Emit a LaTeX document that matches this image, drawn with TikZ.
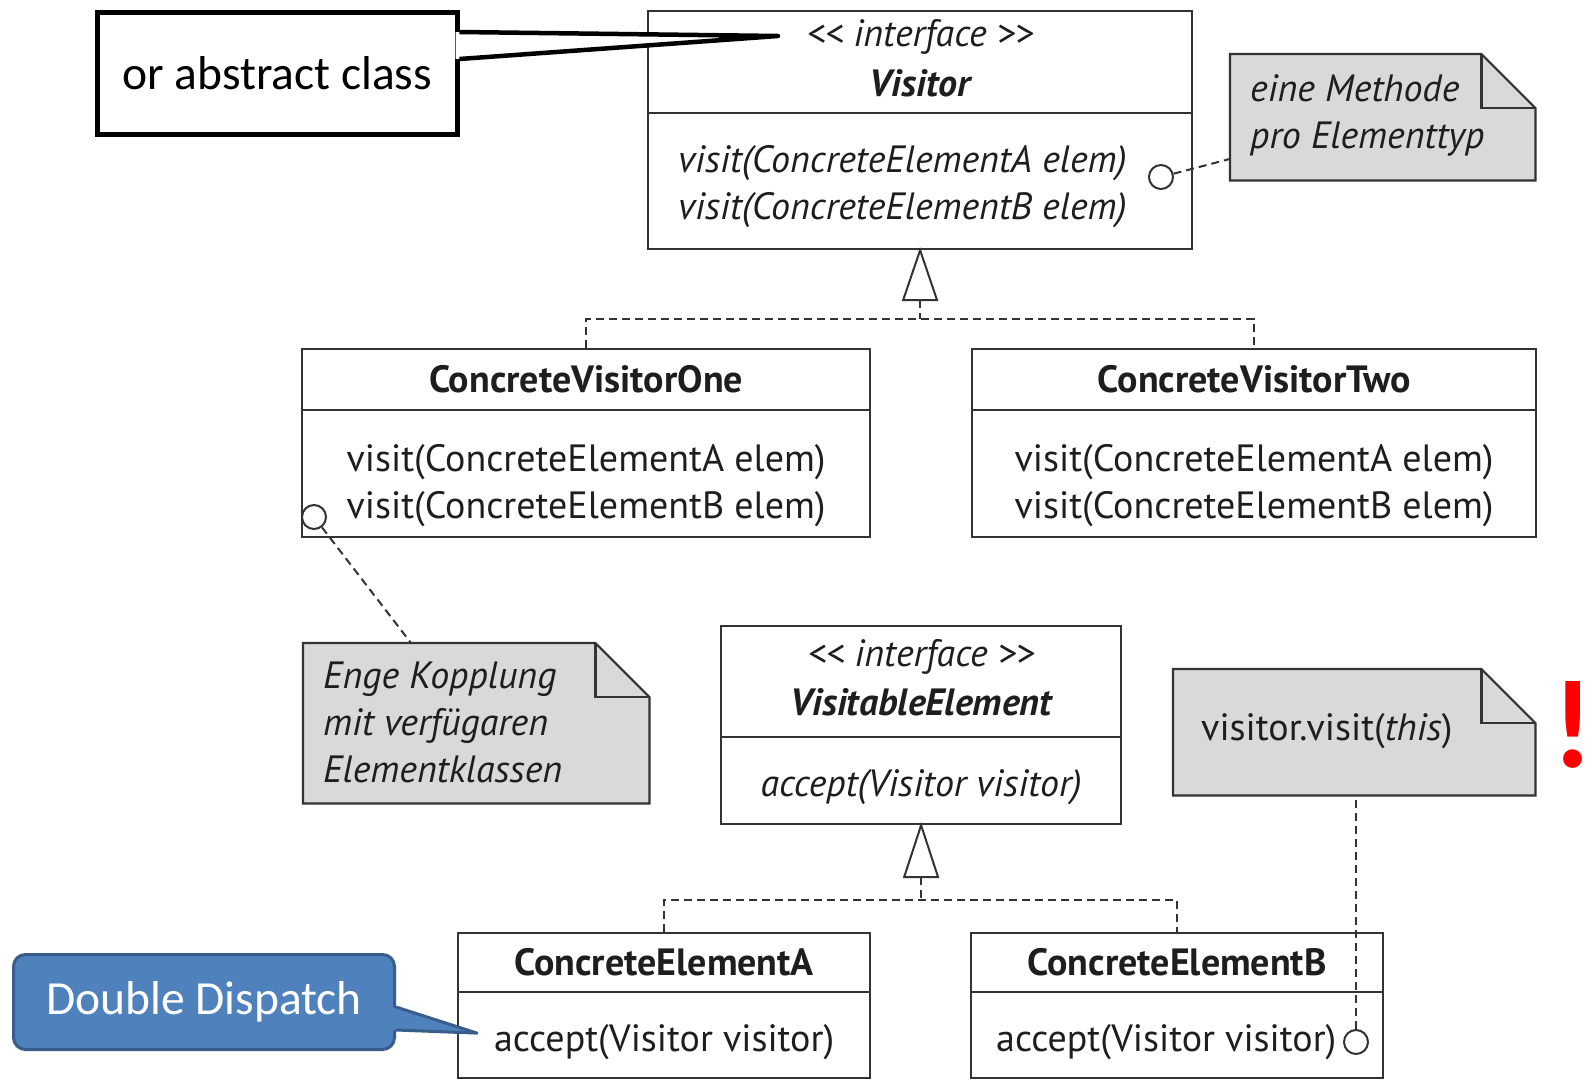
\documentclass[tikz,border=0pt]{standalone}
\usepackage{fontspec}
\setmainfont{PT Sans}
\newfontfamily\callfont{Carlito}
\usetikzlibrary{calc}
\definecolor{ln}{HTML}{333333}
\definecolor{txt}{HTML}{1E1E1E}
\definecolor{notefill}{HTML}{D9D9D9}
\definecolor{blfill}{HTML}{4F81BD}
\definecolor{blline}{HTML}{385D8A}
\newcommand\umlfont{\fontsize{38}{47}\selectfont}
\newcommand\callsize{\fontsize{47.5}{56}\selectfont}
\begin{document}
\begin{tikzpicture}[x=1pt,y=-1pt,
  umlbox/.style={draw=ln, line width=2.2, anchor=north west, inner sep=0},
  umltext/.style={inner sep=0, text=txt, font=\umlfont, align=center},
  umlit/.style={umltext, font=\umlfont\itshape},
  umlbi/.style={umltext, font=\umlfont\itshape\bfseries},
  umlbf/.style={umltext, font=\umlfont\bfseries},
  notetext/.style={inner sep=0, text=txt, font=\umlfont, align=left, anchor=west},
  noteline/.style={draw=ln, line width=2.2, fill=notefill, line join=miter},
  notebox/.style={anchor=north west, inner sep=0},
  lolli/.style={circle, draw=ln, line width=2, fill=white, minimum size=24, inner sep=0},
  dl/.style={draw=ln, line width=2, dash pattern=on 8pt off 5pt},
  tri/.style={draw=ln, line width=2, fill=white, line join=miter}]
\useasboundingbox (0,0) rectangle (1593,1079);
\fill[white] (0,0) rectangle (1593,1079);

% ---------- boxes ----------
\node[umlbox, minimum width=544, minimum height=102] (vish) at (647,10) {};
\node[umlbox, minimum width=544, minimum height=136] (visb) at (647,112) {};
\node[umlbox, minimum width=568, minimum height=61] (cv1h) at (301,348) {};
\node[umlbox, minimum width=568, minimum height=127] (cv1b) at (301,409) {};
\node[umlbox, minimum width=564, minimum height=61] (cv2h) at (971,348) {};
\node[umlbox, minimum width=564, minimum height=127] (cv2b) at (971,409) {};
\node[umlbox, minimum width=400, minimum height=111] (veh) at (720,625) {};
\node[umlbox, minimum width=400, minimum height=87] (veb) at (720,736) {};
\node[umlbox, minimum width=412, minimum height=59] (ceah) at (457,932) {};
\node[umlbox, minimum width=412, minimum height=86] (ceab) at (457,991) {};
\node[umlbox, minimum width=412, minimum height=59] (cebh) at (970,932) {};
\node[umlbox, minimum width=412, minimum height=86] (cebb) at (970,991) {};

% ---------- box texts ----------
\node[umlit] (vis-s) at ($(vish.center)+(0,-25)$) {<{}< interface >{}>};
\node[umlbi] (vis-n) at ($(vish.center)+(0,21)$) {Visitor};
\node[umlit, align=left, anchor=west] (vis-m) at ($(visb.west)+(31,6)$)
  {visit(ConcreteElementA elem)\\ visit(ConcreteElementB elem)};
\node[umlbf] (cv1-n) at (cv1h.center) {ConcreteVisitorOne};
\node[umltext, align=left] (cv1-m) at ($(cv1b.center)+(0,12)$)
  {visit(ConcreteElementA elem)\\ visit(ConcreteElementB elem)};
\node[umlbf] (cv2-n) at (cv2h.center) {ConcreteVisitorTwo};
\node[umltext, align=left] (cv2-m) at ($(cv2b.center)+(0,12)$)
  {visit(ConcreteElementA elem)\\ visit(ConcreteElementB elem)};
\node[umlit] (ve-s) at ($(veh.center)+(0,-25)$) {<{}< interface >{}>};
\node[umlbi] (ve-n) at ($(veh.center)+(0,21)$) {VisitableElement};
\node[umlit] (ve-m) at ($(veb.center)+(0,7)$) {accept(Visitor visitor)};
\node[umlbf] (cea-n) at (ceah.center) {ConcreteElementA};
\node[umltext] (cea-m) at ($(ceab.center)+(0,7)$) {accept(Visitor visitor)};
\node[umlbf] (ceb-n) at (cebh.center) {ConcreteElementB};
\node[umltext, anchor=west] (ceb-m) at ($(cebb.west)+(26,7)$) {accept(Visitor visitor)};

% ---------- Inheritance ----------
\draw[tri] (visb.south) -- ++(-17,50) -- ++(34,0) -- cycle;
\coordinate (t1) at ($(visb.south)+(0,50)$);
\coordinate (bus1) at ($(visb.south)+(0,69)$);
\draw[dl] (t1) -- (bus1);
\draw[dl] (cv1h.north) |- (bus1) -| (cv2h.north);

\draw[tri] (veb.south) -- ++(-17,52) -- ++(34,0) -- cycle;
\coordinate (t2) at ($(veb.south)+(0,52)$);
\coordinate (bus2) at ($(veb.south)+(0,75)$);
\draw[dl] (t2) -- (bus2);
\draw[dl] (ceah.north) |- (bus2) -| (cebh.north);

% ---------- Notes ----------
\node[notebox, minimum width=305, minimum height=126] (n1) at (1230,54) {};
\node[notebox, minimum width=346, minimum height=160] (n2) at (303,643) {};
\node[notebox, minimum width=362, minimum height=126] (n3) at (1173,669) {};
\foreach \n in {n1,n2,n3}{
  \draw[noteline] (\n.north west) -- ([xshift=-54]\n.north east) -- ([yshift=-54]\n.north east)
     -- (\n.south east) -- (\n.south west) -- cycle;
  \draw[draw=ln, line width=2.2] ([xshift=-54]\n.north east) |- ([yshift=-54]\n.north east);
}
\node[notetext, font=\umlfont\itshape] (n1-t) at ($(n1.west)+(20,-2)$) {eine Methode\\ pro Elementtyp};
\node[notetext, font=\umlfont\itshape] (n2-t) at ($(n2.west)+(20,-1)$) {Enge Kopplung\\ mit verfügaren\\ Elementklassen};
\node[notetext] (n3-t) at ($(n3.west)+(28,-1)$) {visitor.visit(\textit{this})};

% ---------- Lollipops and note links ----------
\node[lolli] (c1) at (1161,177) {};
\node[lolli] (c2) at (314,517) {};
\node[lolli] (c3) at (1356,1042) {};
\draw[dl] (c1) -- ($(n1.south west)!0.17!(n1.north west)$);
\draw[dl] (c2) -- ($(n2.north west)+(108,0)$);
\draw[dl] (c3) -- (c3 |- n3.south);

% ---------- Callout: or abstract class ----------
\node[draw=black, line width=4.5, fill=white, minimum width=360, minimum height=122, anchor=north west,
      font=\callfont\callsize, text=black] (abs) at (95,10) {or abstract class};
\coordinate (abstip) at (778,36);
\fill[white] ($(abs.north east)+(-4,22)$) -- (abstip) -- ($(abs.north east)+(-4,49)$) -- cycle;
\draw[line width=4.5, line join=round] ($(abs.north east)+(0,22)$) -- (abstip) -- ($(abs.north east)+(0,49)$);

% ---------- Callout: Double Dispatch ----------
\node[draw=blline, line width=3, fill=blfill, rounded corners=12, minimum width=381, minimum height=95,
      anchor=north west, text=white, font=\callfont\callsize] (dd) at (12,953) {Double Dispatch};
\coordinate (ddtip) at ($(ceab.west)+(20,-2)$);
\fill[blfill] ($(dd.north east)+(-4,54)$) -- (ddtip) -- ($(dd.north east)+(-4,77)$) -- cycle;
\draw[blline, line width=3, line join=round] ($(dd.north east)+(0,54)$) -- (ddtip) -- ($(dd.north east)+(0,77)$);

% ---------- Red exclamation mark ----------
\node[anchor=base east, inner sep=0, text=red, font=\callfont\bfseries\fontsize{126}{126}\selectfont] (excl) at (1594,767) {!};
\end{tikzpicture}
\end{document}
